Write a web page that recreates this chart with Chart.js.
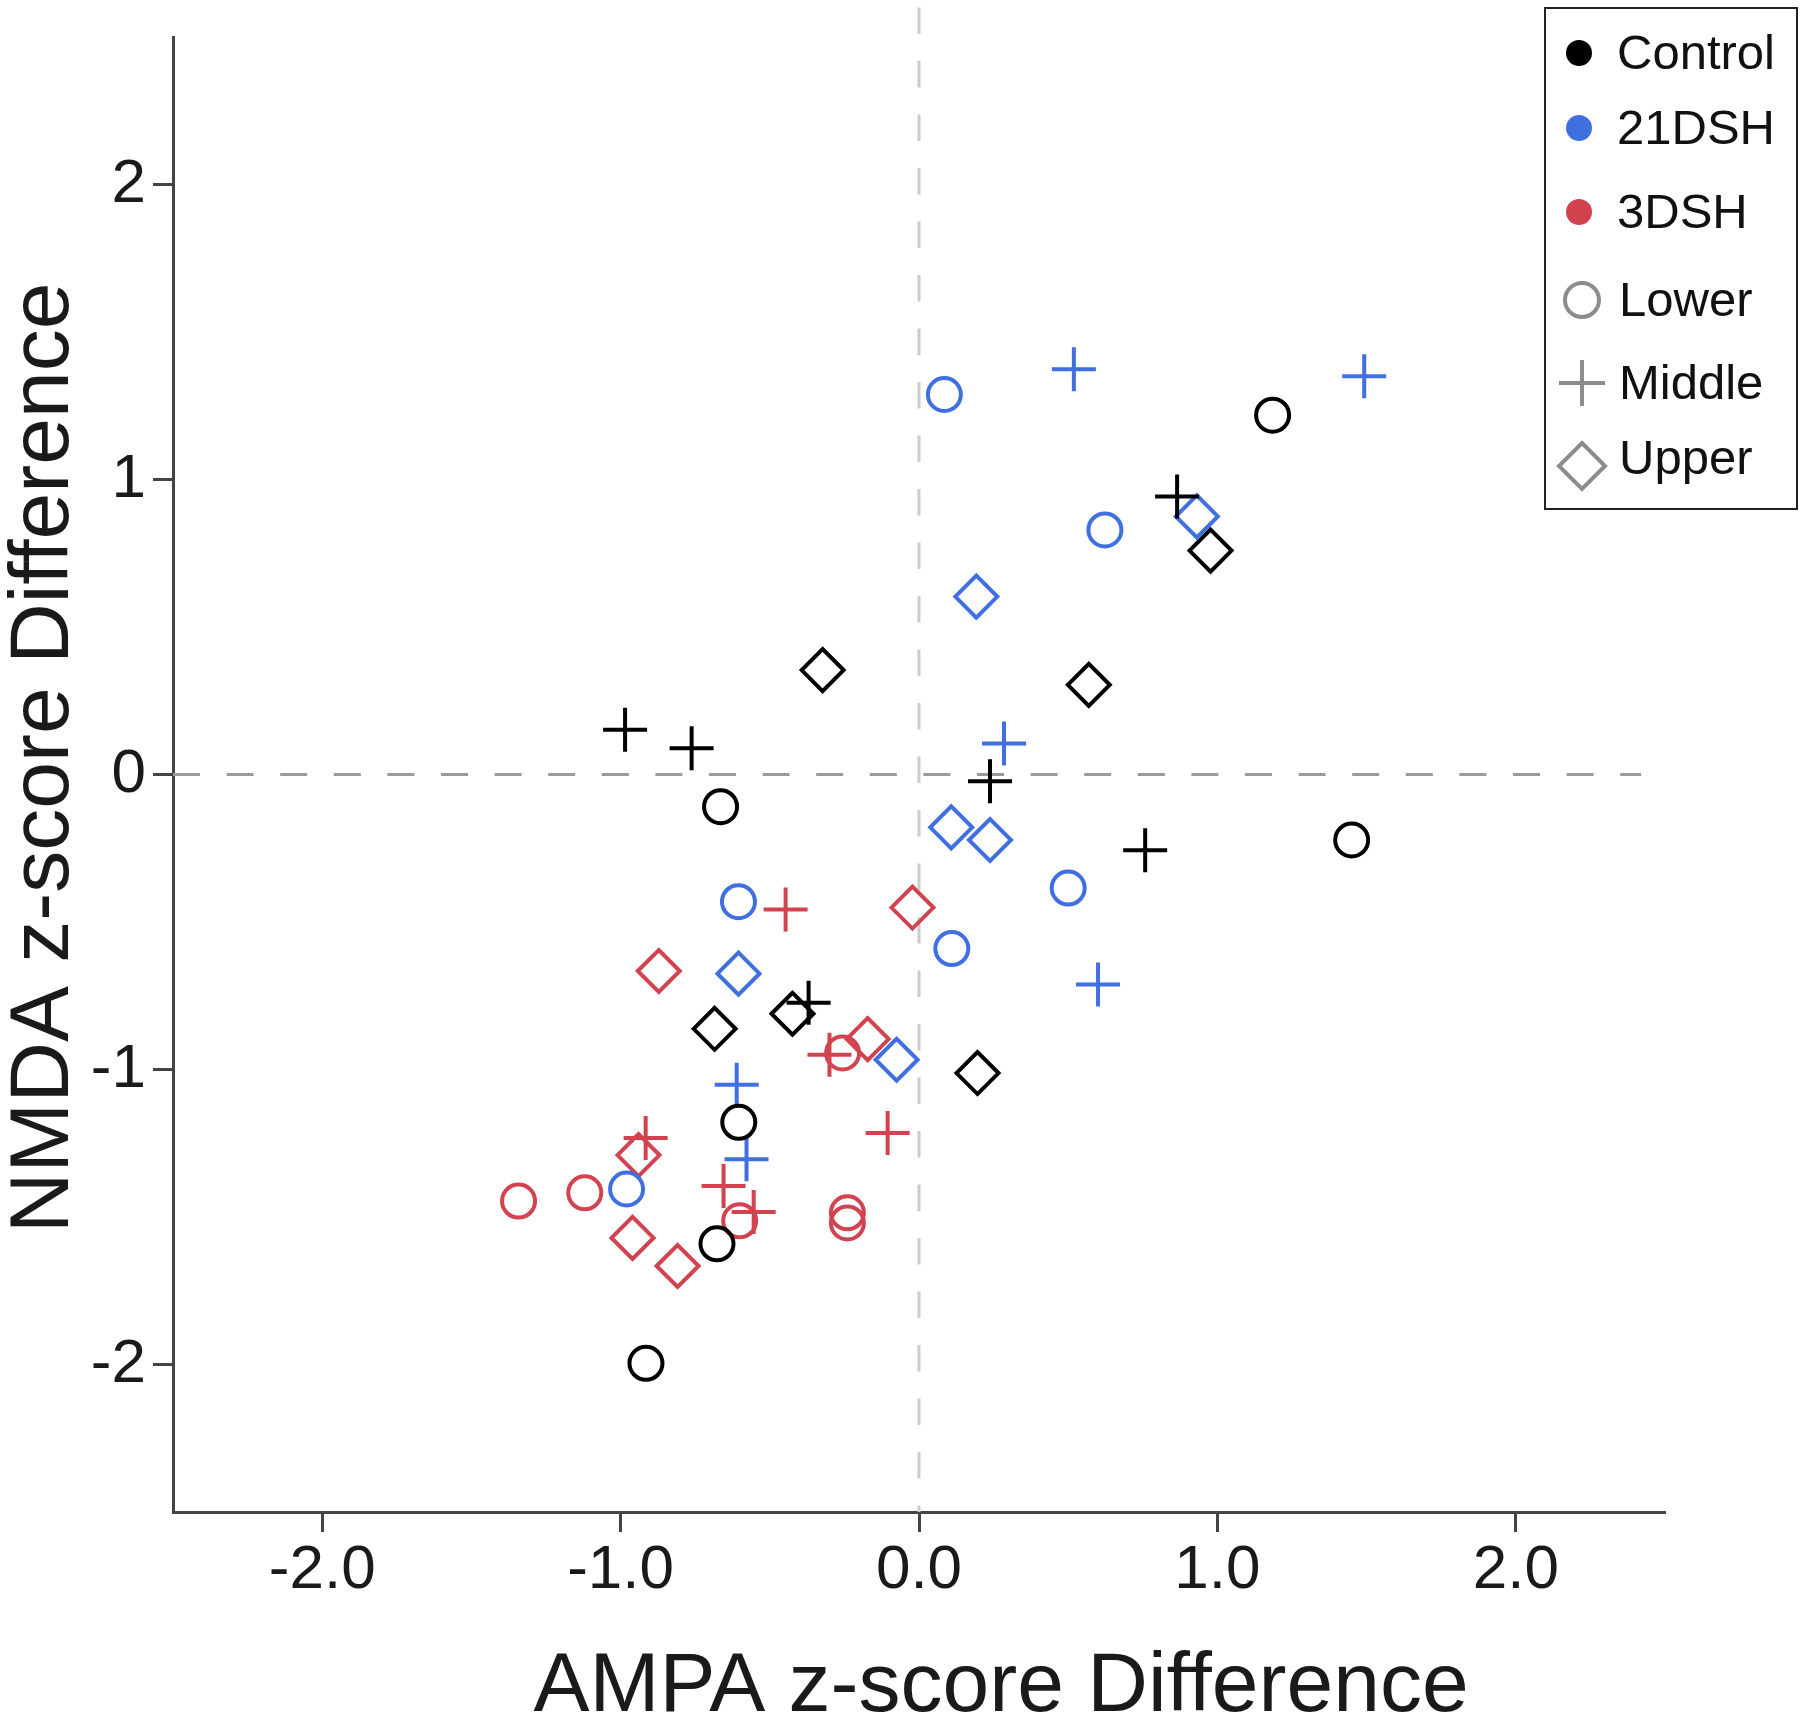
<!DOCTYPE html>
<html>
<head>
<meta charset="utf-8">
<script src="https://cdn.jsdelivr.net/npm/chart.js@4.4.1/dist/chart.umd.min.js"></script>
<style>
html,body{margin:0;padding:0;background:#ffffff;}
canvas{display:block;}
</style>
</head>
<body>
<canvas id="chart" width="1800" height="1716"></canvas>
<script>
// ---------- data ----------
const groupNames = ['Control', '21DSH', '3DSH'];
const regionNames = ['Lower', 'Middle', 'Upper'];

const controlLowerX  = [1.185, -0.665, 1.45, -0.604, -0.677, -0.915];
const controlLowerY  = [1.218, -0.109, -0.222, -1.179, -1.591, -1.996];
const controlMiddleX = [0.865, -0.985, -0.762, 0.238, 0.758, -0.37];
const controlMiddleY = [0.942, 0.152, 0.089, -0.023, -0.257, -0.774];
const controlUpperX  = [0.977, -0.323, 0.569, -0.424, -0.685, 0.196];
const controlUpperY  = [0.759, 0.354, 0.304, -0.811, -0.862, -1.012];

const dsh21LowerX  = [0.085, 0.623, 0.5, -0.605, 0.11, -0.98];
const dsh21LowerY  = [1.288, 0.829, -0.385, -0.431, -0.59, -1.405];
const dsh21MiddleX = [0.519, 1.492, 0.285, 0.6, -0.611, -0.578];
const dsh21MiddleY = [1.374, 1.35, 0.105, -0.712, -1.052, -1.304];
const dsh21UpperX  = [0.931, 0.192, 0.108, 0.238, -0.605, -0.075];
const dsh21UpperY  = [0.875, 0.603, -0.179, -0.222, -0.675, -0.967];

const dsh3LowerX  = [-1.342, -1.12, -0.256, -0.601, -0.24, -0.24];
const dsh3LowerY  = [-1.446, -1.418, -0.944, -1.513, -1.486, -1.52];
const dsh3MiddleX = [-0.447, -0.30, -0.105, -0.916, -0.655, -0.554];
const dsh3MiddleY = [-0.458, -0.95, -1.215, -1.232, -1.395, -1.483];
const dsh3UpperX  = [-0.022, -0.872, -0.172, -0.94, -0.96, -0.809];
const dsh3UpperY  = [-0.451, -0.666, -0.897, -1.29, -1.571, -1.666];

const xTickValues = [-2, -1, 0, 1, 2];
const xTickLabels = ['-2.0', '-1.0', '0.0', '1.0', '2.0'];
const yTickValues = [-2, -1, 0, 1, 2];
const yTickLabels = ['-2', '-1', '0', '1', '2'];
const xAxisTitle = 'AMPA z-score Difference';
const yAxisTitle = 'NMDA z-score Difference';

// ---------- styles ----------
const FONT = '"Liberation Sans", Arial, Helvetica, sans-serif';
const groupColors = ['#000000', '#3f6fe0', '#d2424f'];
const regionStyles = ['circle', 'cross', 'rectRot'];
const regionRadius = [16.5, 22, 21];
const legendGray = '#8c8c8c';

const seriesXY = [
  [[controlLowerX, controlLowerY], [controlMiddleX, controlMiddleY], [controlUpperX, controlUpperY]],
  [[dsh21LowerX, dsh21LowerY], [dsh21MiddleX, dsh21MiddleY], [dsh21UpperX, dsh21UpperY]],
  [[dsh3LowerX, dsh3LowerY], [dsh3MiddleX, dsh3MiddleY], [dsh3UpperX, dsh3UpperY]]
];

const datasets = [];
seriesXY.forEach((grp, gi) => {
  grp.forEach((xy, ri) => {
    datasets.push({
      label: groupNames[gi] + ' ' + regionNames[ri],
      data: xy[0].map((x, i) => ({x: x, y: xy[1][i]})),
      pointStyle: regionStyles[ri],
      pointRadius: regionRadius[ri],
      pointHoverRadius: regionRadius[ri],
      pointBorderWidth: 4,
      pointHoverBorderWidth: 4,
      borderColor: groupColors[gi],
      pointBorderColor: groupColors[gi],
      backgroundColor: 'rgba(0,0,0,0)',
      pointBackgroundColor: 'rgba(0,0,0,0)',
      showLine: false
    });
  });
});

// ---------- plugins ----------
const zeroLines = {
  id: 'zeroLines',
  beforeDatasetsDraw(chart) {
    const {ctx, chartArea, scales: {x, y}} = chart;
    ctx.save();
    ctx.lineWidth = 3;
    // horizontal y = 0
    ctx.strokeStyle = '#9a9a9a';
    ctx.setLineDash([27, 26.6]);
    const y0 = y.getPixelForValue(0);
    ctx.beginPath();
    ctx.moveTo(chartArea.left, y0);
    ctx.lineTo(x.getPixelForValue(2.42), y0);
    ctx.stroke();
    // vertical x = 0
    ctx.strokeStyle = '#cccccc';
    ctx.setLineDash([26.5, 27]);
    const x0 = x.getPixelForValue(0);
    ctx.beginPath();
    ctx.moveTo(x0, y.getPixelForValue(2.6));
    ctx.lineTo(x0, chartArea.bottom);
    ctx.stroke();
    ctx.restore();
  }
};

function drawMarker(ctx, style, cx, cy, r) {
  ctx.beginPath();
  if (style === 'circle') {
    ctx.arc(cx, cy, r, 0, Math.PI * 2);
  } else if (style === 'cross') {
    ctx.moveTo(cx - r, cy); ctx.lineTo(cx + r, cy);
    ctx.moveTo(cx, cy - r); ctx.lineTo(cx, cy + r);
  } else {
    ctx.moveTo(cx, cy - r); ctx.lineTo(cx + r, cy);
    ctx.lineTo(cx, cy + r); ctx.lineTo(cx - r, cy); ctx.closePath();
  }
  ctx.stroke();
}

const legendAndTitles = {
  id: 'legendAndTitles',
  afterDraw(chart) {
    const ctx = chart.ctx;
    ctx.save();
    // axis titles
    ctx.fillStyle = '#1a1a1a';
    ctx.font = '84px ' + FONT;
    ctx.textAlign = 'center';
    ctx.textBaseline = 'alphabetic';
    ctx.fillText(xAxisTitle, 1001, 1711);
    ctx.save();
    ctx.translate(68, 758);
    ctx.rotate(-Math.PI / 2);
    ctx.fillText(yAxisTitle, 0, 0);
    ctx.restore();

    // legend box
    ctx.lineWidth = 2;
    ctx.strokeStyle = '#222222';
    ctx.strokeRect(1545, 8, 252, 501);
    ctx.font = '49px ' + FONT;
    ctx.textAlign = 'left';
    ctx.fillStyle = '#111111';
    const groupRowY = [53, 128, 212];
    const groupBase = [69, 144, 228];
    groupNames.forEach((name, i) => {
      ctx.beginPath();
      ctx.fillStyle = groupColors[i];
      ctx.arc(1579, groupRowY[i], 13, 0, Math.PI * 2);
      ctx.fill();
      ctx.fillStyle = '#111111';
      ctx.fillText(name, 1617, groupBase[i]);
    });
    const regionRowY = [300, 383, 466];
    const regionBase = [316, 399, 474];
    const regionLegendR = [17, 23, 23];
    regionNames.forEach((name, i) => {
      ctx.strokeStyle = legendGray;
      ctx.lineWidth = 4;
      drawMarker(ctx, regionStyles[i], 1582, regionRowY[i], regionLegendR[i]);
      ctx.fillStyle = '#111111';
      ctx.fillText(name, 1619, regionBase[i]);
    });
    ctx.restore();
  }
};

// ---------- chart ----------
const axisCommon = {
  type: 'linear',
  min: -2.5,
  max: 2.5,
  grid: {
    display: true,
    drawOnChartArea: false,
    drawTicks: true,
    tickLength: 20,
    tickWidth: 3,
    tickColor: '#444444'
  },
  border: {display: true, color: '#444444', width: 3},
  title: {display: false}
};

new Chart(document.getElementById('chart'), {
  type: 'scatter',
  data: {datasets: datasets},
  options: {
    responsive: false,
    animation: false,
    devicePixelRatio: 1,
    events: [],
    layout: {autoPadding: false, padding: {top: 37, right: 135, left: 0, bottom: 0}},
    plugins: {legend: {display: false}, tooltip: {enabled: false}, title: {display: false}},
    scales: {
      x: Object.assign({}, axisCommon, {
        position: 'bottom',
        afterBuildTicks: (scale) => { scale.ticks = xTickValues.map(v => ({value: v})); },
        afterFit: (scale) => { scale.height = 204; scale.paddingLeft = 0; scale.paddingRight = 0; },
        ticks: {
          color: '#1a1a1a',
          padding: 2,
          font: {family: FONT, size: 62, lineHeight: 1.2},
          maxRotation: 0,
          callback: (v) => xTickLabels[xTickValues.indexOf(v)]
        }
      }),
      y: Object.assign({}, axisCommon, {
        position: 'left',
        afterBuildTicks: (scale) => { scale.ticks = yTickValues.map(v => ({value: v})); },
        afterFit: (scale) => { scale.width = 173; scale.paddingTop = 0; scale.paddingBottom = 0; },
        ticks: {
          color: '#1a1a1a',
          padding: 7,
          font: {family: FONT, size: 62, lineHeight: 1.2},
          callback: (v) => yTickLabels[yTickValues.indexOf(v)]
        }
      })
    }
  },
  plugins: [zeroLines, legendAndTitles]
});
</script>
</body>
</html>
